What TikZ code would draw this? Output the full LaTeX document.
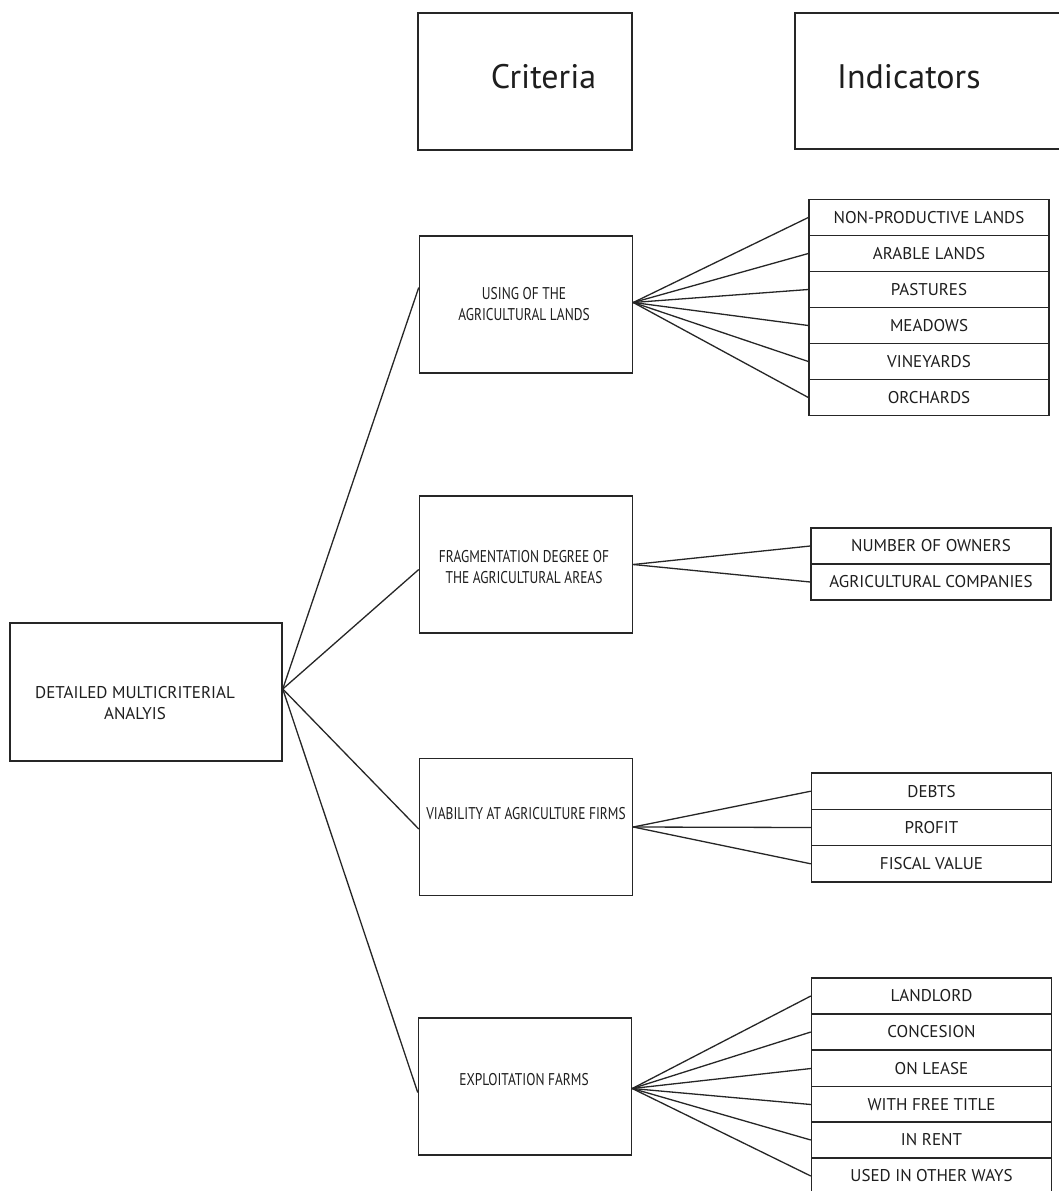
\documentclass[tikz,border=0pt]{standalone}
\usepackage{fontspec}
\setmainfont{PT Sans}
\newfontfamily\condfam[FakeStretch=0.79]{PT Sans}
\newcommand\smallfnt{\fontsize{17}{21}\selectfont}
\newcommand\condfnt{\condfam\fontsize{17}{21}\selectfont}
\newcommand\bigfnt{\fontsize{34}{40}\selectfont}
\definecolor{ln}{HTML}{262626}
\definecolor{tx}{HTML}{1E1E1E}
\tikzset{
  crit/.style={draw=ln, line width=1.5pt, minimum width=213pt, minimum height=137pt, inner sep=0pt},
  ind/.style={draw=ln, line width=1.4pt, minimum width=240pt, minimum height=36pt, inner sep=0pt, font=\smallfnt, text=tx},
  lab/.style={font=\smallfnt, text=tx, align=center, inner sep=0pt},
  clab/.style={font=\condfnt, text=tx, align=center, inner sep=0pt},
  big/.style={font=\bigfnt, text=tx, inner sep=0pt},
  con/.style={draw=ln, line width=1.3pt},
}
\begin{document}
\begin{tikzpicture}[x=1pt,y=-1pt]
\useasboundingbox (0,0) rectangle (1059,1191);
\fill[white] (0,0) rectangle (1059,1191);

% headers
\node[crit, minimum width=214pt] (crith) at (525,81.5) {};
\node[big] (critt) at (543.5,77) {Criteria};
\draw[con, line width=1.5pt] (1059,13) -- (795,13) -- (795,149) -- (1059,149);
\node[big, anchor=west] (indt) at (837,77) {Indicators};

% main box
\node[crit, minimum width=272pt, minimum height=138pt] (main) at (146,692) {};
\node[lab] (maint) at (135,703) {DETAILED MULTICRITERIAL\\ANALYIS};

% criteria boxes
\node[crit] (using) at (526,304.5) {};
\node[clab] (usingt) at (524,304) {USING OF THE\\AGRICULTURAL LANDS};
\node[crit] (frag) at (526,564.5) {};
\node[clab] (fragt) at (524,567) {FRAGMENTATION DEGREE OF\\THE AGRICULTURAL AREAS};
\node[crit] (viab) at (526,827) {};
\node[clab] (viabt) at (526,814) {VIABILITY AT AGRICULTURE FIRMS};
\node[crit] (expl) at (525,1086.5) {};
\node[clab] (explt) at (524,1080) {EXPLOITATION FARMS};

% indicators: using
\node[ind] (u1) at (929,217.5) {NON-PRODUCTIVE LANDS};
\node[ind] (u2) at (929,253.5) {ARABLE LANDS};
\node[ind] (u3) at (929,289.5) {PASTURES};
\node[ind] (u4) at (929,325.5) {MEADOWS};
\node[ind] (u5) at (929,361.5) {VINEYARDS};
\node[ind] (u6) at (929,397.5) {ORCHARDS};
% indicators: fragmentation
\node[ind] (f1) at (931,546) {NUMBER OF OWNERS};
\node[ind] (f2) at (931,582) {AGRICULTURAL COMPANIES};
% indicators: viability
\node[ind, minimum height=36.3pt] (v1) at (931.5,791.2) {DEBTS};
\node[ind, minimum height=36.3pt] (v2) at (931.5,827.5) {PROFIT};
\node[ind, minimum height=36.3pt] (v3) at (931.5,863.8) {FISCAL VALUE};
% indicators: exploitation
\node[ind] (e1) at (931.5,996) {LANDLORD};
\node[ind] (e2) at (931.5,1032) {CONCESION};
\node[ind] (e3) at (931.5,1068.5) {ON LEASE};
\node[ind] (e4) at (931.5,1104.5) {WITH FREE TITLE};
\node[ind] (e5) at (931.5,1140) {IN RENT};
\node[ind] (e6) at (931.5,1176) {USED IN OTHER WAYS};

% connectors main -> criteria
\coordinate (mo) at ([yshift=3pt]main.east);
\draw[con] (mo) -- ([yshift=17pt]using.west);
\draw[con] (mo) -- ([yshift=-5pt]frag.west);
\draw[con] (mo) -- ([yshift=-2pt]viab.west);
\draw[con] (mo) -- ([yshift=-6pt]expl.west);

% connectors criteria -> indicators
\foreach \t in {u1,u2,u3,u4,u5,u6} \draw[con] ([yshift=2pt]using.east) -- (\t.west);
\foreach \t in {f1,f2} \draw[con] (frag.east) -- (\t.west);
\foreach \t in {v1,v2,v3} \draw[con] (viab.east) -- (\t.west);
\foreach \t in {e1,e2,e3,e4,e5,e6} \draw[con] ([yshift=-2pt]expl.east) -- (\t.west);
\end{tikzpicture}
\end{document}
